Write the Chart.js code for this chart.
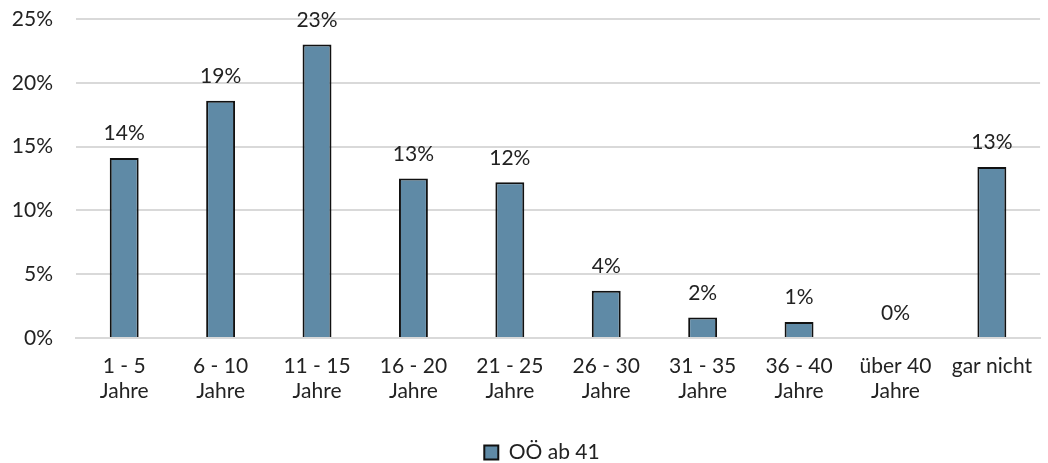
<!DOCTYPE html>
<html>
<head>
<meta charset="utf-8">
<script src="https://cdn.jsdelivr.net/npm/chart.js@4"></script>
<style>
	html, body { margin: 0; padding: 0; background: #fff; }
	#wrap { width: 1048px; height: 463px; }
</style>
</head>
<body>
<div id="wrap"><canvas id="chart" width="1048" height="463"></canvas></div>
<script>
const categories = [
	['1 - 5', 'Jahre'], ['6 - 10', 'Jahre'], ['11 - 15', 'Jahre'], ['16 - 20', 'Jahre'],
	['21 - 25', 'Jahre'], ['26 - 30', 'Jahre'], ['31 - 35', 'Jahre'], ['36 - 40', 'Jahre'],
	['über 40', 'Jahre'], 'gar nicht'
];
const values = [14.1, 18.6, 23.0, 12.5, 12.2, 3.7, 1.6, 1.25, 0, 13.4];
const seriesName = 'OÖ ab 41';

const font = 'Lato, "Open Sans", sans-serif';
const fontSize = 21;

const valueLabels = {
	id: 'valueLabels',
	afterDatasetsDraw(chart) {
		const ctx = chart.ctx;
		const meta = chart.getDatasetMeta(0);
		ctx.save();
		ctx.font = fontSize + 'px ' + font;
		ctx.fillStyle = '#222';
		ctx.textAlign = 'center';
		ctx.textBaseline = 'bottom';
		meta.data.forEach((bar, i) => {
			ctx.fillText(Math.round(values[i]) + '%', bar.x, bar.y - 14);
		});
		ctx.restore();
	}
};

// the original legend sits a little right of the canvas centre
const legendNudge = {
	id: 'legendNudge',
	afterLayout(chart) {
		if (chart.legend) chart.legend.left += 36;
	}
};

new Chart(document.getElementById('chart').getContext('2d'), {
	type: 'bar',
	data: {
		labels: categories,
		datasets: [{
			label: seriesName,
			data: values,
			backgroundColor: '#5f8aa6',
			borderColor: '#111',
			borderWidth: 2,
			borderSkipped: 'bottom',
			barPercentage: 0.3,
			categoryPercentage: 1
		}]
	},
	options: {
		responsive: false,
		animation: false,
		// negative bottom padding eats the empty strip chart.js leaves under the legend
		layout: { padding: { top: 0, right: 0, left: 0, bottom: -10 } },
		scales: {
			x: {
				afterFit: (scale) => { scale.height = 96; },
				grid: { display: false, drawTicks: false },
				border: { color: '#d9d9d9', width: 2 },
				ticks: {
					color: '#222',
					font: { family: font, size: fontSize, lineHeight: 1.19 },
					padding: 16,
					maxRotation: 0,
					autoSkip: false
				}
			},
			y: {
				min: 0,
				max: 25,
				afterFit: (scale) => {
					scale.width = 76;
					scale.paddingTop = 19;
					scale.paddingBottom = 0;
				},
				grid: { color: '#d9d9d9', lineWidth: 2, drawTicks: false },
				border: { display: false },
				ticks: {
					stepSize: 5,
					padding: 23,
					color: '#222',
					font: { family: font, size: fontSize },
					callback: (v) => v + '%'
				}
			}
		},
		plugins: {
			tooltip: { enabled: false },
			legend: {
				position: 'bottom',
				labels: {
					color: '#222',
					font: { family: font, size: fontSize },
					boxWidth: 14,
					boxHeight: 14,
					padding: 8
				}
			}
		}
	},
	plugins: [valueLabels, legendNudge]
});
</script>
</body>
</html>
